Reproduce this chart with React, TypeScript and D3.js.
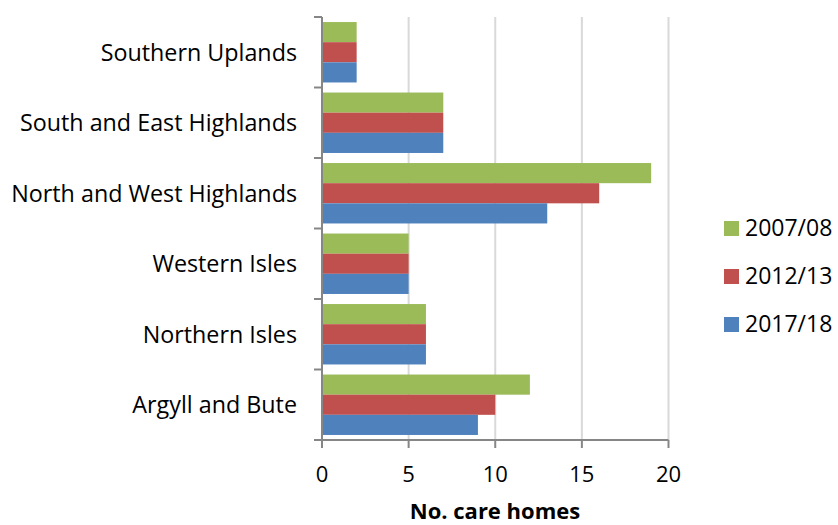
import React from "react";
import * as d3 from "d3";

const categories = [
  "Southern Uplands",
  "South and East Highlands",
  "North and West Highlands",
  "Western Isles",
  "Northern Isles",
  "Argyll and Bute",
];
const seriesNames = ["2007/08", "2012/13", "2017/18"];
const values2007 = [2, 7, 19, 5, 6, 12];
const values2012 = [2, 7, 16, 5, 6, 10];
const values2017 = [2, 7, 13, 5, 6, 9];
const seriesColors = ["#9BBB59", "#C0504D", "#4F81BD"];
const xTicks = [0, 5, 10, 15, 20];
const axisTitle = "No. care homes";

const FONT = "'Open Sans', 'Noto Sans', sans-serif";

export default function App() {
  const W = 838;
  const H = 525;
  const left = 322;
  const right = 668.5;
  const top = 17;
  const bottom = 440;
  const x = d3.scaleLinear().domain([0, 20]).range([left, right]);
  const y = d3.scaleBand<string>().domain(categories).range([top, bottom]).paddingInner(0).paddingOuter(0);
  const inner = d3
    .scaleBand<string>()
    .domain(seriesNames)
    .range([0, y.bandwidth()])
    .paddingInner(0)
    .paddingOuter(0.25);
  const series = [values2007, values2012, values2017];
  const boundaries = d3.range(categories.length + 1).map((i) => top + i * y.step());

  return (
    <svg width={W} height={H} style={{ position: "absolute", left: 0, top: 0 }}>
      <rect width={W} height={H} fill="#fff" />
      {xTicks.slice(1).map((t) => (
        <line key={"g" + t} x1={x(t)} x2={x(t)} y1={top} y2={bottom} stroke="#D9D9D9" strokeWidth={2} />
      ))}
      {categories.map((c, ci) =>
        series.map((vals, si) => (
          <rect
            key={c + si}
            x={x(0)}
            y={(y(c) as number) + (inner(seriesNames[si]) as number)}
            width={x(vals[ci]) - x(0)}
            height={inner.bandwidth()}
            fill={seriesColors[si]}
          />
        ))
      )}
      {/* y axis */}
      <line x1={x(0)} x2={x(0)} y1={top} y2={bottom} stroke="#868686" strokeWidth={2} />
      {boundaries.map((b, i) => (
        <line key={"yt" + i} x1={x(0) - 8} x2={x(0)} y1={b} y2={b} stroke="#868686" strokeWidth={2} />
      ))}
      {/* x axis */}
      <line x1={x(0)} x2={x(20)} y1={bottom} y2={bottom} stroke="#868686" strokeWidth={2} />
      {xTicks.map((t) => (
        <line key={"xt" + t} x1={x(t)} x2={x(t)} y1={bottom} y2={bottom + 8} stroke="#868686" strokeWidth={2} />
      ))}
      {xTicks.map((t) => (
        <text key={"xl" + t} x={x(t)} y={482} textAnchor="middle" fontFamily={FONT} fontSize={22} fill="#000">
          {t}
        </text>
      ))}
      {categories.map((c) => (
        <text
          key={"cl" + c}
          x={297}
          y={(y(c) as number) + y.bandwidth() / 2 + 8.5}
          textAnchor="end"
          fontFamily={FONT}
          fontSize={23.3}
          fill="#000"
        >
          {c}
        </text>
      ))}
      <text x={495} y={519} textAnchor="middle" fontFamily={FONT} fontSize={22} fontWeight="bold" fill="#000">
        {axisTitle}
      </text>
      {seriesNames.map((s, i) => (
        <g key={"lg" + s}>
          <rect x={724} y={221 + i * 48} width={15} height={15} fill={seriesColors[i]} />
          <text x={745} y={236 + i * 48} fontFamily={FONT} fontSize={23} fill="#000">
            {s}
          </text>
        </g>
      ))}
    </svg>
  );
}
